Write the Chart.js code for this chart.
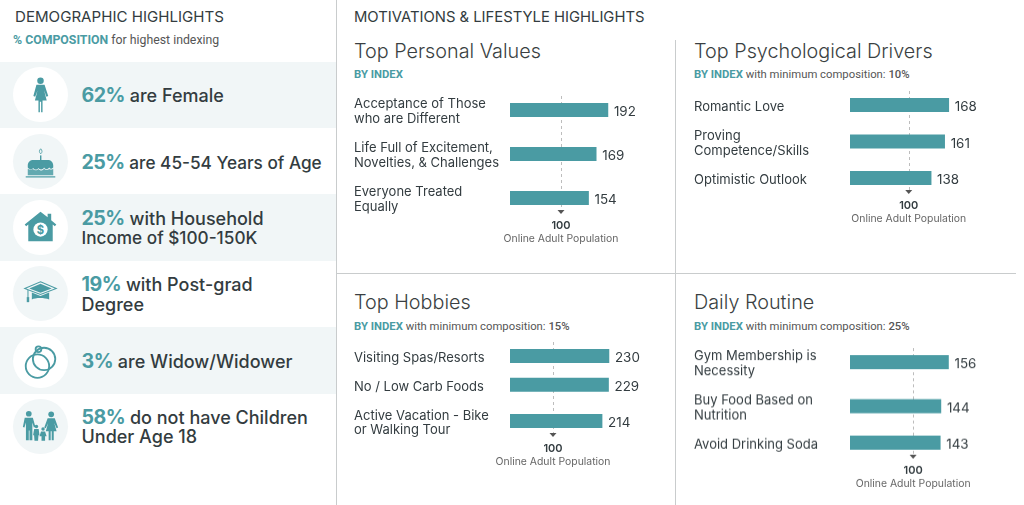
<!DOCTYPE html>
<html>
<head>
<meta charset="utf-8">
<title>Highlights</title>
<script src="https://cdn.jsdelivr.net/npm/chart.js@4"></script>
<style>
  html, body { margin: 0; padding: 0; background: #fff; }
  body { width: 1024px; height: 505px; position: relative; overflow: hidden; font-family: Inter, sans-serif; color: #333c40; }
  .abs { position: absolute; white-space: nowrap; }
  .head { font-size: 14.8px; font-weight: 400; line-height: 18px; }
  .sub { font-family: Roboto, sans-serif; font-size: 11.3px; line-height: 16px; color: #555; }
  .sub.top { font-size: 12.3px; }
  .sub b { color: #4a9ba3; font-weight: 700; }
  .sub strong { color: #555; font-weight: 500; }
  .title { font-size: 19.8px; font-weight: 300; line-height: 26px; color: #3a3f42; }
  .row { position: absolute; left: 0; width: 336px; height: 66.5px; }
  .row.shade { background: #f1f6f7; }
  .dot { position: absolute; left: 12.5px; top: 5.5px; width: 55px; height: 55px; border-radius: 50%; background: #f1f6f7; }
  .shade .dot { background: #fff; }
  .dot svg { width: 55px; height: 55px; display: block; fill: #4a9ba3; }
  .txt { position: absolute; left: 81.5px; top: 1px; height: 66.5px; display: flex; flex-direction: column; justify-content: center; font-size: 18px; font-weight: 450; line-height: 19.5px; white-space: nowrap; }
  .txt b { color: #4a9ba3; font-weight: 700; font-size: 19.6px; letter-spacing: -0.5px; }
  /* lines with many digits run narrower in the original face */
  #rows .row:nth-child(2) .txt, #rows .row:nth-child(3) .txt div:nth-child(2) { font-size: 17.2px; }
  .line { position: absolute; background: #c9cccd; }
  canvas { position: absolute; }
</style>
</head>
<body>

<div class="abs head" style="left:15px;top:8px;font-size:15.1px">DEMOGRAPHIC HIGHLIGHTS</div>
<div class="abs sub top" style="left:13px;top:32px"><b>% COMPOSITION</b> for highest indexing</div>
<div class="abs head" style="left:354px;top:8px">MOTIVATIONS &amp; LIFESTYLE HIGHLIGHTS</div>

<div id="rows"></div>

<div class="line" style="left:336px;top:0;width:1px;height:505px"></div>
<div class="line" style="left:675px;top:40px;width:1px;height:465px"></div>
<div class="line" style="left:337px;top:273px;width:679px;height:1px"></div>

<div class="abs title" style="left:354px;top:38px">Top Personal Values</div>
<div class="abs sub" style="left:354px;top:67px"><b>BY INDEX</b></div>
<div class="abs title" style="left:694px;top:38px">Top Psychological Drivers</div>
<div class="abs sub" style="left:694px;top:67px"><b>BY INDEX</b> with minimum composition: <strong>10%</strong></div>
<div class="abs title" style="left:354px;top:289px">Top Hobbies</div>
<div class="abs sub" style="left:354px;top:319px"><b>BY INDEX</b> with minimum composition: <strong>15%</strong></div>
<div class="abs title" style="left:694px;top:289px">Daily Routine</div>
<div class="abs sub" style="left:694px;top:319px"><b>BY INDEX</b> with minimum composition: <strong>25%</strong></div>

<canvas id="chartValues"></canvas>
<canvas id="chartDrivers"></canvas>
<canvas id="chartHobbies"></canvas>
<canvas id="chartRoutine"></canvas>

<script>
// Data
const demoPercents = ['62%', '25%', '25%', '19%', '3%', '58%'];
const demoTexts = [
    ['are Female'],
    ['are 45-54 Years of Age'],
    ['with Household', 'Income of $100-150K'],
    ['with Post-grad', 'Degree'],
    ['are Widow/Widower'],
    ['do not have Children', 'Under Age 18']
];

const valuesLabels = [['Acceptance of Those', 'who are Different'], ['Life Full of Excitement,', 'Novelties, & Challenges'], ['Everyone Treated', 'Equally']];
const valuesData = [192, 169, 154];

const driversLabels = [['Romantic Love'], ['Proving', 'Competence/Skills'], ['Optimistic Outlook']];
const driversData = [168, 161, 138];

const hobbiesLabels = [['Visiting Spas/Resorts'], ['No / Low Carb Foods'], ['Active Vacation - Bike', 'or Walking Tour']];
const hobbiesData = [230, 229, 214];

const routineLabels = [['Gym Membership is', 'Necessity'], ['Buy Food Based on', 'Nutrition'], ['Avoid Drinking Soda']];
const routineData = [156, 144, 143];

const refValue = 100;
const refLabel = 'Online Adult Population';

const TEAL = '#4a9ba3';
const LABEL_FONT = 'Inter, sans-serif';

// Icons (decoration only)
const icons = [
    '<circle cx="27" cy="13.5" r="3.2"/><path d="M23 17.5h8l3.6 11-1.8.8-2.3-6.5 2.6 10H29v11.7h-1.4V34h-1.2v10.5H25V33h-3.5l2.6-10-2.3 6.3-1.8-.8z"/>',
    '<path d="M26.5 21h1.4v5h-1.4z"/><path d="M27.2 14.5c1.6 1.6 1.8 3.4 0 5-1.8-1.6-1.6-3.4 0-5z" fill="none" stroke="#4a9ba3" stroke-width=".8"/><path d="M14.5 31c0-3.6 2.4-5.5 5.5-5.5h14c3.1 0 5.5 1.900 5.500 5.500v2c-1.500 2-3 .8-4-.2-1.500 2-3.500 2-5 0-1.500 2.500-4 2.500-5.500.5-1.500 2-4 2-5 0-1.500 1.500-4 2-5.500-.300z"/><path d="M14.500 34c2 1.500 4 1 5 .3 1.500 1.700 4 1.700 5.500 0 1.500 2 4 2 5.500-.3 1.500 1.500 3.500 1.500 5 .3 1 .8 2.500 1 4-.3v6.500h-25z" opacity=".85"/><path d="M12.500 41.500h29v1.200h-29z"/>',
    '<path d="M27 11.500 34 17v-3.500h3.500v6.300L42.500 24l-1.400 1.700L39 24v16.500H15V24l-2.100 1.700L11.500 24z"/><circle cx="27" cy="29" r="7" fill="#fff"/><text x="27" y="33" font-size="11" font-weight="700" text-anchor="middle" font-family="Inter" fill="#4a9ba3">$</text>',
    '<path d="M27 15.500 42.500 22 27 28 11.500 22z" fill="none" stroke="#4a9ba3" stroke-width="1"/><path d="M27 17.500 38 22l-11 4.200L16 22z"/><path d="M18.500 26v7c3.500-2 12.500-2 17 0v-7L27 29.500z"/><path d="M14.200 23.500h1v7h-1z"/><path d="M13.500 30.500h2.400v5h-2.400z"/>',
    '<g fill="none" stroke="#4a9ba3" stroke-width="1.800"><circle cx="24" cy="32.500" r="11.500"/><circle cx="30.500" cy="25.500" r="11"/><circle cx="25" cy="16" r="2.800"/></g>',
    '<circle cx="15.500" cy="14.500" r="2.800"/><path d="M11.500 18.500h8l2.500 9-1.500.6-1.500-5v17.500h-2.800V31h-.7v9.600h-2.800V23l-1.500 5-1.500-.6z"/><circle cx="37.500" cy="15" r="2.800"/><path d="M34 19h7l3.300 9-1.500.6-2.300-5 2.300 8H40v9h-2v-9h-1v9h-2v-9h-2.800l2.300-8-2.300 5-1.500-.6z"/><circle cx="23" cy="27" r="1.700"/><path d="M20.800 29.500h4.400l.8 6h-1l-.4 5.500h-3.500l-.4-5.500h-1z"/><circle cx="29.500" cy="29.500" r="1.700"/><path d="M27.500 32h4l1.500 4.500h-1.500v4.500h-3.500v-4.500H26z"/>'
];

// Left column rows
function renderRows() {
    const wrap = document.getElementById('rows');
    const rowTops = [61.5, 128, 194, 260.5, 327, 393];
    let html = '';
    demoPercents.forEach((pct, i) => {
        const lines = demoTexts[i];
        const shade = i % 2 === 0 ? 'shade' : '';
        const body = lines.length > 1
            ? `<div><b>${pct}</b> ${lines[0]}</div><div>${lines[1]}</div>`
            : `<div><b>${pct}</b> ${lines[0]}</div>`;
        html += `<div class="row ${shade}" style="top:${rowTops[i]}px">
            <div class="dot"><svg viewBox="0 0 54 54">${icons[i]}</svg></div>
            <div class="txt">${body}</div>
        </div>`;
    });
    wrap.innerHTML = html;
}

// Bars stack like the text next to them: two line labels take more room
function rowCentres(labels) {
    const lineH = 15, gap = 14;
    const out = [0];
    for (let i = 1; i < labels.length; i++) {
        out.push(out[i - 1] + (labels[i - 1].length + labels[i].length) * lineH / 2 + gap);
    }
    return out;
}

// Value after each bar, dashed line at 100 with arrow and caption
const refPlugin = {
    id: 'refPlugin',
    beforeDatasetsDraw(chart) {
        const { ctx, chartArea, scales } = chart;
        const x = Math.round(scales.x.getPixelForValue(refValue)) + 0.5;
        ctx.save();
        ctx.strokeStyle = '#bdbdbd';
        ctx.lineWidth = 1;
        ctx.setLineDash([3, 3]);
        ctx.beginPath();
        ctx.moveTo(x, chartArea.top);
        ctx.lineTo(x, chartArea.bottom - 4);
        ctx.stroke();
        ctx.restore();
    },
    afterDatasetsDraw(chart) {
        const { ctx, chartArea, scales, data } = chart;
        const x = scales.x.getPixelForValue(refValue);
        const bars = chart.getDatasetMeta(0).data;
        ctx.save();
        ctx.fillStyle = '#333c40';
        ctx.font = '13.4px ' + LABEL_FONT;
        ctx.textAlign = 'left';
        ctx.textBaseline = 'middle';
        bars.forEach((bar, i) => {
            ctx.fillText(data.datasets[0].data[i].x, bar.x + 6, bar.y + 2);
        });

        ctx.fillStyle = '#555';
        ctx.beginPath();
        ctx.moveTo(x - 3.5, chartArea.bottom - 4);
        ctx.lineTo(x + 3.5, chartArea.bottom - 4);
        ctx.lineTo(x, chartArea.bottom);
        ctx.closePath();
        ctx.fill();

        ctx.textAlign = 'center';
        ctx.fillStyle = '#333c40';
        ctx.font = '600 11px ' + LABEL_FONT;
        ctx.fillText(refValue, x, chartArea.bottom + 12);
        ctx.fillStyle = '#666';
        ctx.font = '10.400px ' + LABEL_FONT;
        ctx.fillText(refLabel, x, chartArea.bottom + 25);
        ctx.restore();
    }
};

function drawPanel(id, labels, values, left, firstRowY, xMax) {
    const rows = rowCentres(labels);
    const last = rows[rows.length - 1];
    const padTop = 6, padBottom = 34, above = 14, below = 16;
    const canvas = document.getElementById(id);
    const h = padTop + above + last + below + padBottom;
    canvas.width = 310;
    canvas.height = h;
    canvas.style.left = left + 'px';
    canvas.style.top = (firstRowY - above - padTop) + 'px';
    canvas.style.width = '310px';
    canvas.style.height = h + 'px';

    new Chart(canvas.getContext('2d'), {
        type: 'bar',
        data: {
            datasets: [{
                data: values.map((v, i) => ({ x: v, y: rows[i] })),
                backgroundColor: TEAL,
                barThickness: 13.3
            }]
        },
        options: {
            indexAxis: 'y',
            responsive: false,
            animation: false,
            layout: { padding: { top: padTop, bottom: padBottom, left: 0, right: 0 }, autoPadding: false },
            plugins: { legend: { display: false }, tooltip: { enabled: false } },
            scales: {
                x: { type: 'linear', display: false, min: 0, max: xMax },
                y: {
                    type: 'linear',
                    reverse: true,
                    offset: false,
                    min: -above,
                    max: last + below,
                    grid: { display: false, offset: false },
                    border: { display: false },
                    afterBuildTicks: s => { s.ticks = rows.map(v => ({ value: v })); },
                    afterFit: s => { s.width = 156; s.paddingTop = 0; s.paddingBottom = 0; },
                    ticks: {
                        autoSkip: false,
                        crossAlign: 'far',
                        labelOffset: 2,
                        color: '#333c40',
                        font: { family: LABEL_FONT, size: 13, lineHeight: 1.15 },
                        callback: v => labels[rows.indexOf(v)]
                    }
                }
            }
        },
        plugins: [refPlugin]
    });
}

document.addEventListener('DOMContentLoaded', () => {
    renderRows();
    drawPanel('chartValues', valuesLabels, valuesData, 354, 110, 302);
    drawPanel('chartDrivers', driversLabels, driversData, 694, 104.5, 262);
    drawPanel('chartHobbies', hobbiesLabels, hobbiesData, 354, 355.5, 358);
    drawPanel('chartRoutine', routineLabels, routineData, 694, 362, 244);
});
</script>
</body>
</html>
